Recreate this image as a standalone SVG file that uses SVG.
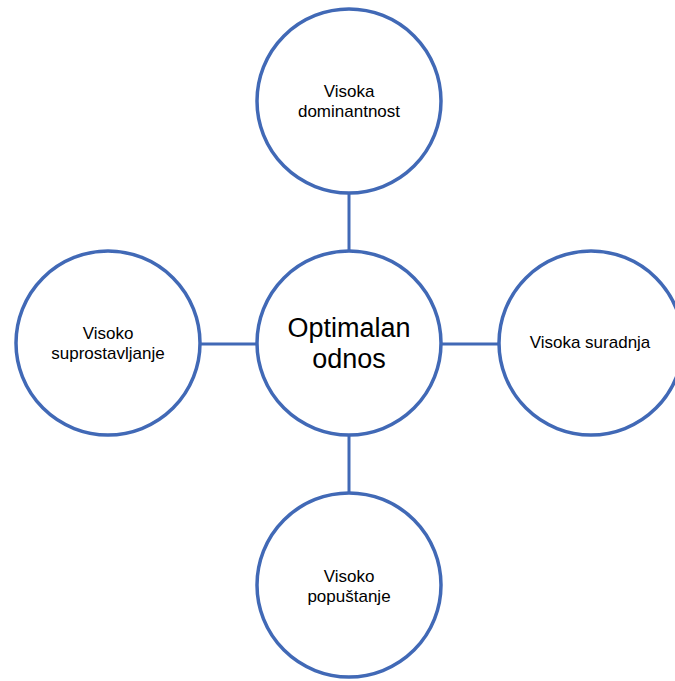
<svg xmlns="http://www.w3.org/2000/svg" width="675" height="681" viewBox="0 0 675 681">
<style>
.node{fill:#ffffff;stroke:#4169B6;stroke-width:3.5}
.conn{stroke:#4169B6;stroke-width:3;fill:none}
.t{font-family:"Liberation Sans",Arial,sans-serif;font-size:17px;fill:#000;text-anchor:middle}
.tc{font-family:"Liberation Sans",Arial,sans-serif;font-size:27px;fill:#000;text-anchor:middle}
</style>
<rect width="675" height="681" fill="#ffffff"/>
<g id="connectors">
<line class="conn" x1="349" y1="193" x2="349" y2="251"/>
<line class="conn" x1="200" y1="344" x2="257" y2="344"/>
<line class="conn" x1="441" y1="344" x2="499" y2="344"/>
<line class="conn" x1="349" y1="435" x2="349" y2="493"/>
</g>
<g id="center">
<circle class="node" cx="349" cy="343" r="92"/>
<text class="tc" x="349" y="337">Optimalan</text>
<text class="tc" x="349" y="368">odnos</text>
</g>
<g id="top">
<circle class="node" cx="349" cy="101" r="92"/>
<text class="t" x="349" y="97">Visoka</text>
<text class="t" x="349" y="117">dominantnost</text>
</g>
<g id="left">
<circle class="node" cx="108" cy="343" r="92"/>
<text class="t" x="108" y="339">Visoko</text>
<text class="t" x="108" y="359">suprostavljanje</text>
</g>
<g id="right">
<circle class="node" cx="591" cy="343" r="92"/>
<text class="t" x="590" y="348">Visoka suradnja</text>
</g>
<g id="bottom">
<circle class="node" cx="349" cy="585" r="92"/>
<text class="t" x="349" y="582">Visoko</text>
<text class="t" x="349" y="602">popuštanje</text>
</g>
</svg>
